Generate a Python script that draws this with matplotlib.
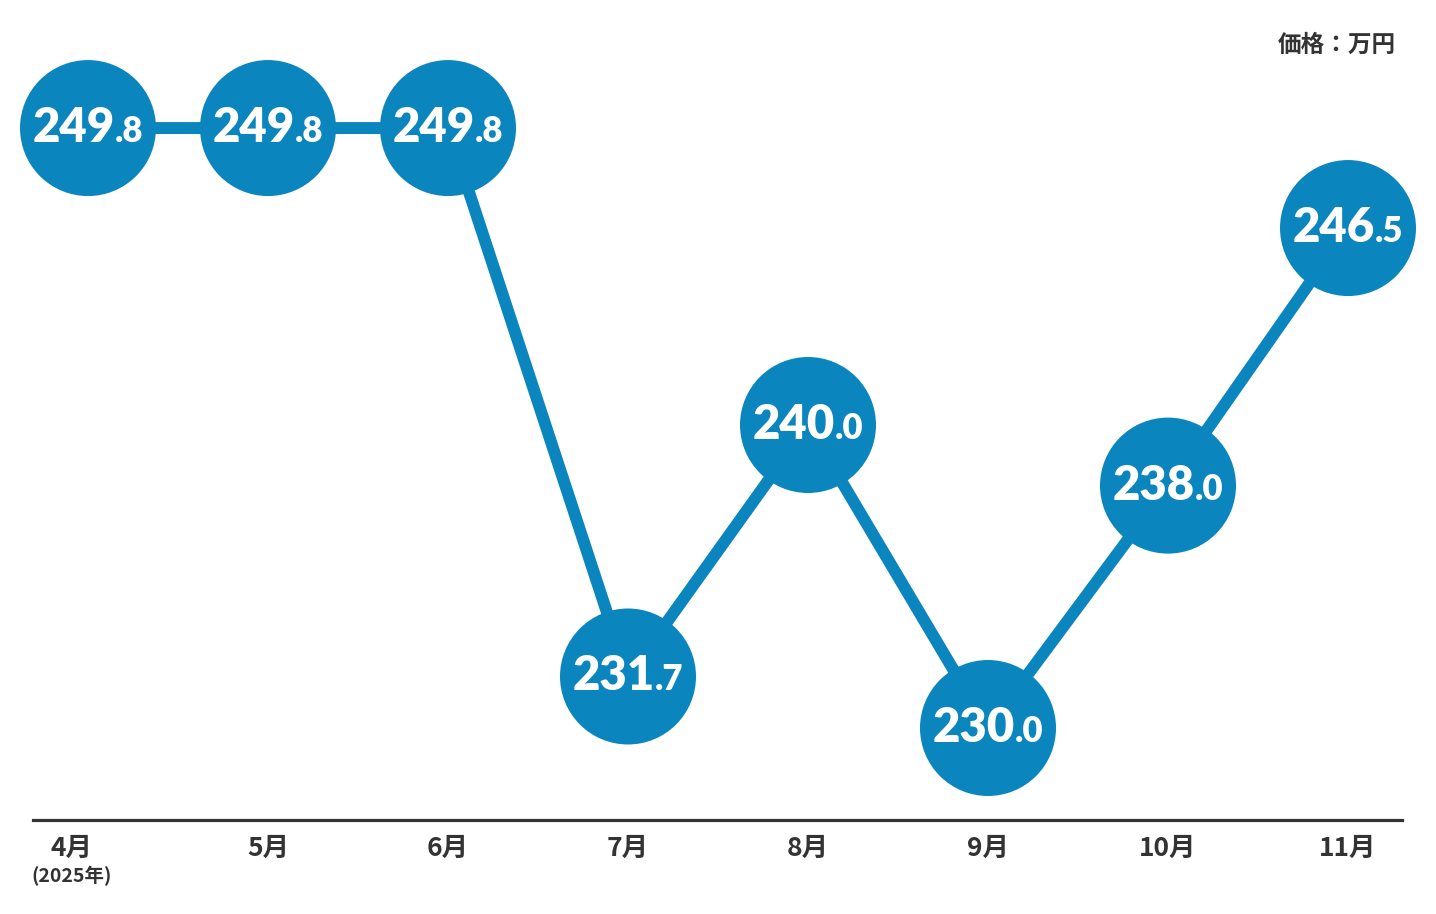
#!/usr/bin/env python3
"""Monthly price chart (万円), Apr-Nov 2025, bubble markers with values."""
import matplotlib
matplotlib.use("Agg")
import matplotlib.pyplot as plt
from matplotlib.offsetbox import TextArea, HPacker, AnnotationBbox
from matplotlib.transforms import ScaledTranslation

months = ["4月", "5月", "6月", "7月", "8月", "9月", "10月", "11月"]
prices = [249.8, 249.8, 249.8, 231.7, 240.0, 230.0, 238.0, 246.5]

BLUE = "#0a85bd"
DARK = "#333333"
JP = ["Noto Sans CJK JP", "DejaVu Sans"]
NUM = ["Lato", "DejaVu Sans"]

plt.rcParams["font.family"] = JP

W, H = 1436, 914
fig = plt.figure(figsize=(W / 100, H / 100), dpi=100)

# axes: bottom spine at y=820px, spans x 33..1402px
left, right, bottom, top = 33, 1402, 820, 40
ax = fig.add_axes([left / W, (H - bottom) / H, (right - left) / W, (bottom - top) / H])

x = list(range(len(months)))
px_per_x = 180.0
ax.set_xlim(-(88 - left) / px_per_x, 7 + (right - 1348) / px_per_x)
px_per_y = 30.3
ax.set_ylim(230 - (bottom - 728) / px_per_y, 230 + (728 - top) / px_per_y)

ax.plot(x, prices, color=BLUE, lw=8.6, solid_capstyle="butt", zorder=2, clip_on=False)
ax.scatter(x, prices, s=(68 * 2 * 0.72) ** 2, color=BLUE, edgecolors="none",
           zorder=3, clip_on=False)

for xi, p in zip(x, prices):
    whole, dec = f"{p:.1f}".split(".")
    big = TextArea(whole, textprops=dict(color="white", fontsize=34, fontweight="heavy",
                                         family=NUM))
    small = TextArea("." + dec, textprops=dict(color="white", fontsize=25, fontweight="heavy",
                                               family=NUM))
    box = HPacker(children=[big, small], align="baseline", pad=0, sep=0)
    ab = AnnotationBbox(box, (xi, p), frameon=False, box_alignment=(0.5, 0.5), zorder=4,
                        annotation_clip=False)
    ax.add_artist(ab)

for s in ["top", "left", "right"]:
    ax.spines[s].set_visible(False)
ax.spines["bottom"].set_color(DARK)
ax.spines["bottom"].set_linewidth(2.3)
ax.set_yticks([])
ax.set_xticks(x)
ax.set_xticklabels(months, fontsize=19, fontweight="bold", color=DARK)
ax.tick_params(axis="x", length=0, pad=11)
first = ax.get_xticklabels()[0]
first.set_transform(first.get_transform() + ScaledTranslation(-0.17, 0, fig.dpi_scale_trans))

fig.text(72 / W, 1 - 876 / H, "(2025年)", fontsize=14, fontweight="bold", color=DARK,
         ha="center", va="center")

fig.text(1396 / W, 1 - 45 / H, "価格：万円", ha="right", va="center",
         fontsize=17, fontweight="bold", color=DARK)

fig.savefig("out.png", dpi=100, facecolor="white")
